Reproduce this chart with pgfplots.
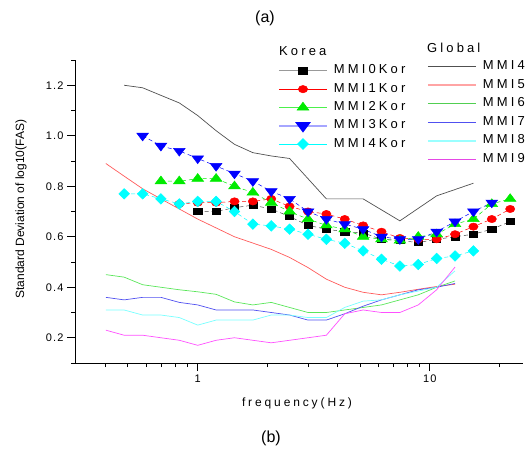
\documentclass[border=0pt]{standalone}
\usepackage{pgfplots}
\pgfplotsset{compat=1.18}
\usepackage{fontspec}
\setmainfont{Liberation Sans}
\newfontfamily\spaced[LetterSpace=24]{Liberation Sans}
\newfontfamily\tickfont[LetterSpace=10]{Liberation Sans}
\definecolor{gmmi4}{RGB}{80,80,80}
\definecolor{gmmi5}{RGB}{255,90,90}
\definecolor{gmmi6}{RGB}{90,230,90}
\definecolor{gmmi7}{RGB}{80,80,240}
\definecolor{gmmi8}{RGB}{120,255,255}
\definecolor{gmmi9}{RGB}{255,80,255}
\definecolor{kgreen}{RGB}{0,235,0}
\definecolor{kcyan}{RGB}{0,255,255}
\definecolor{kred}{RGB}{255,0,0}
\definecolor{kblue}{RGB}{0,0,255}
\definecolor{kgray}{RGB}{70,70,70}
\pgfplotsset{
  kdash/.style={line width=0.5bp, dash pattern=on 4bp off 3bp},
  msq/.style={mark=square*, mark size=3.15bp, mark options={solid, xscale=1.3, fill=black, draw=black}},
  mci/.style={mark=*, mark size=3.65bp, mark options={solid, xscale=1.27, fill=kred, draw=kred}},
  mtu/.style={mark=triangle*, mark size=5.2bp, mark options={solid, xscale=1.3, fill=kgreen, draw=kgreen}},
  mtd/.style={mark=triangle*, mark size=5.2bp, mark options={solid, rotate=180, xscale=1.3, fill=kblue, draw=kblue}},
  mdi/.style={mark=diamond*, mark size=5.3bp, mark options={solid, xscale=1.35, fill=kcyan, draw=kcyan}},
}
\begin{document}
\begin{tikzpicture}
% ---------- main axis with global lines ----------
\begin{axis}[
  width=448bp, height=303bp, scale only axis,
  at={(0,0)}, anchor=south west,
  xmode=log, xmin=0.296, xmax=25.2, ymin=0.1, ymax=1.3,
  legend image code/.code={\draw[mark repeat=2,mark phase=2,#1] plot coordinates {(0bp,0bp) (24bp,0bp) (48bp,0bp)};},
  axis x line*=bottom, axis y line*=left, axis line style={-, line width=0.8bp},
  tick align=outside, major tick length=8bp, minor tick length=4bp,
  every tick/.style={black, line width=0.8bp},
  xtick={1,10}, xticklabels={1,10},
  minor xtick={0.4,0.5,0.6,0.7,0.8,0.9,2,3,4,5,6,7,8,9,20},
  ytick={0.2,0.4,0.6,0.8,1.0,1.2},
  minor ytick={0.1,0.3,0.5,0.7,0.9,1.1,1.3},
  yticklabel style={/pgf/number format/.cd, fixed, fixed zerofill, precision=1, assume math mode=true},
  tick label style={font=\tickfont\fontsize{11bp}{13bp}\selectfont},
  xlabel={\spaced frequency(Hz)},
  ylabel={Standard Deviation of log10(FAS)},
  every axis x label/.style={at={(axis description cs:0.4955,0)}, yshift=-40bp, anchor=center, font=\fontsize{12bp}{14bp}\selectfont},
  every axis y label/.style={at={(axis description cs:0,0.508)}, xshift=-54bp, rotate=90, anchor=center, font=\fontsize{12bp}{14bp}\selectfont},
  legend style={draw=none, fill=none, inner sep=0pt, outer sep=0pt,
    at={(0.7857,0.9974)}, anchor=north west, row sep=6.5bp, column sep=6bp,
    nodes={inner sep=0pt, text height=9bp, text depth=3bp},
    font=\spaced\fontsize{13bp}{14bp}\selectfont},
  legend cell align=left,
]
\addlegendimage{color=gmmi4, line width=0.8bp}
\addlegendentry{MMI4}
\addlegendimage{color=gmmi5!55, line width=2bp}
\addlegendentry{MMI5}
\addlegendimage{color=gmmi6!90!black, line width=1.3bp}
\addlegendentry{MMI6}
\addlegendimage{color=gmmi7, line width=1.1bp}
\addlegendentry{MMI7}
\addlegendimage{color=gmmi8!75, line width=2bp}
\addlegendentry{MMI8}
\addlegendimage{color=gmmi9!90!black, line width=1.3bp}
\addlegendentry{MMI9}
\addplot[gmmi4, line width=0.7bp, forget plot] coordinates {
(0.482,1.20) (0.579,1.19) (0.694,1.16) (0.833,1.13) (1.000,1.08) (1.200,1.02)
(1.440,0.966) (1.728,0.933) (2.074,0.92) (2.488,0.91) (3.583,0.75) (5.160,0.75)
(7.430,0.663) (10.70,0.762) (15.41,0.812)};
\addplot[gmmi5, line width=0.7bp, forget plot] coordinates {
(0.402,0.89) (0.482,0.84) (0.579,0.79) (0.694,0.75) (0.833,0.71) (1.000,0.67)
(1.200,0.635) (1.440,0.60) (1.728,0.575) (2.074,0.55) (2.488,0.518) (2.986,0.478)
(3.583,0.432) (4.300,0.40) (5.160,0.38) (6.192,0.37) (7.430,0.38) (8.916,0.392)
(10.70,0.403) (12.84,0.412)};
\addplot[gmmi6, line width=0.7bp, forget plot] coordinates {
(0.402,0.45) (0.482,0.44) (0.579,0.41) (0.694,0.40) (0.833,0.39) (1.000,0.382)
(1.200,0.372) (1.440,0.342) (1.728,0.33) (2.074,0.34) (2.488,0.32) (2.986,0.30)
(3.583,0.30) (4.300,0.31) (5.160,0.32) (6.192,0.33) (7.430,0.35) (8.916,0.37)
(10.70,0.40) (12.84,0.425)};
\addplot[gmmi7, line width=0.7bp, forget plot] coordinates {
(0.402,0.36) (0.482,0.35) (0.579,0.36) (0.694,0.36) (0.833,0.34) (1.000,0.33)
(1.200,0.31) (1.440,0.31) (1.728,0.31) (2.074,0.30) (2.488,0.29) (2.986,0.27)
(3.583,0.27) (4.300,0.295) (5.160,0.325) (6.192,0.35) (7.430,0.37) (8.916,0.39)
(10.70,0.40) (12.84,0.415)};
\addplot[gmmi8, line width=0.7bp, forget plot] coordinates {
(0.402,0.31) (0.482,0.31) (0.579,0.29) (0.694,0.29) (0.833,0.28) (1.000,0.25)
(1.200,0.27) (1.440,0.27) (1.728,0.27) (2.074,0.29) (2.488,0.29) (2.986,0.28)
(3.583,0.28) (4.300,0.32) (5.160,0.345) (6.192,0.35) (7.430,0.37) (8.916,0.385)
(10.70,0.40) (12.84,0.465)};
\addplot[gmmi9, line width=0.7bp, forget plot] coordinates {
(0.402,0.23) (0.482,0.21) (0.579,0.21) (0.694,0.20) (0.833,0.19) (1.000,0.17)
(1.200,0.19) (1.440,0.20) (1.728,0.19) (2.074,0.18) (2.488,0.19) (2.986,0.20)
(3.583,0.21) (4.300,0.295) (5.160,0.31) (6.192,0.30) (7.430,0.30) (8.916,0.33)
(10.70,0.39) (12.84,0.48)};
\end{axis}
% ---------- overlay axis with Korean series ----------
\begin{axis}[
  width=448bp, height=303bp, scale only axis,
  at={(0,0)}, anchor=south west,
  xmode=log, xmin=0.296, xmax=25.2, ymin=0.1, ymax=1.3,
  hide axis,
  legend image code/.code={\draw[mark repeat=2,mark phase=2,#1] plot coordinates {(0bp,0bp) (24bp,0bp) (48bp,0bp)};},
  legend style={draw=none, fill=none, inner sep=0pt, outer sep=0pt,
    at={(0.4531,0.984)}, anchor=north west, row sep=6.3bp, column sep=6bp,
    nodes={inner sep=0pt, text height=9bp, text depth=3bp},
    font=\spaced\fontsize{13bp}{14bp}\selectfont},
  legend cell align=left,
]
\addlegendimage{draw=black!40, line width=1.2bp, msq}
\addlegendentry{MMI0Kor}
\addlegendimage{draw=kred, line width=0.6bp, mci}
\addlegendentry{MMI1Kor}
\addlegendimage{draw=kgreen!70, line width=0.6bp, mtu}
\addlegendentry{MMI2Kor}
\addlegendimage{draw=kblue!35, line width=2bp, mtd}
\addlegendentry{MMI3Kor}
\addlegendimage{draw=kcyan, line width=0.8bp, mdi}
\addlegendentry{MMI4Kor}
\addplot[kgray, kdash, msq, forget plot] coordinates {
(1.000,0.70) (1.200,0.70) (1.440,0.715) (1.728,0.725) (2.074,0.71) (2.488,0.68)
(2.986,0.645) (3.583,0.63) (4.300,0.62) (5.160,0.615) (6.192,0.59) (7.430,0.585)
(8.916,0.577) (10.70,0.59) (12.84,0.60) (15.41,0.61) (18.49,0.63) (22.19,0.66)};
\addplot[kred, kdash, mci, forget plot] coordinates {
(0.833,0.73) (1.000,0.735) (1.200,0.735) (1.440,0.74) (1.728,0.74) (2.074,0.75)
(2.488,0.72) (2.986,0.70) (3.583,0.69) (4.300,0.67) (5.160,0.645) (6.192,0.62)
(7.430,0.595) (8.916,0.59) (10.70,0.59) (12.84,0.61) (15.41,0.64) (18.49,0.67)
(22.19,0.71)};
\addplot[kgreen, kdash, mtu, forget plot] coordinates {
(0.694,0.82) (0.833,0.82) (1.000,0.83) (1.200,0.83) (1.440,0.80) (1.728,0.775)
(2.074,0.735) (2.488,0.70) (2.986,0.67) (3.583,0.645) (4.300,0.63) (5.160,0.60)
(6.192,0.59) (7.430,0.585) (8.916,0.60) (10.70,0.61) (12.84,0.65) (15.41,0.67)
(18.49,0.73) (22.19,0.75)};
\addplot[kblue, kdash, mtd, forget plot] coordinates {
(0.579,1.00) (0.694,0.96) (0.833,0.94) (1.000,0.91) (1.200,0.88) (1.440,0.85)
(1.728,0.82) (2.074,0.78) (2.488,0.75) (2.986,0.70) (3.583,0.67) (4.300,0.65)
(5.160,0.63) (6.192,0.60) (7.430,0.59) (8.916,0.59) (10.70,0.62) (12.84,0.66)
(15.41,0.70) (18.49,0.735)};
\addplot[kcyan, kdash, mdi, forget plot] coordinates {
(0.482,0.77) (0.579,0.77) (0.694,0.75) (0.833,0.73) (1.000,0.74) (1.200,0.74)
(1.440,0.70) (1.728,0.65) (2.074,0.643) (2.488,0.63) (2.986,0.61) (3.583,0.59)
(4.300,0.574) (5.160,0.544) (6.192,0.511) (7.430,0.484) (8.916,0.49) (10.70,0.514)
(12.84,0.524) (15.41,0.544)};
\end{axis}
\node[anchor=west, font=\spaced\fontsize{13bp}{14bp}\selectfont, inner sep=0pt] at (204bp,312bp) {Korea};
\node[anchor=west, font=\spaced\fontsize{13bp}{14bp}\selectfont, inner sep=0pt] at (352bp,314.7bp) {Global};
\node[font=\fontsize{16bp}{18bp}\selectfont] at (190bp,345bp) {(a)};
\node[font=\fontsize{16bp}{18bp}\selectfont] at (196bp,-75bp) {(b)};
\pgfresetboundingbox
\path (-75bp,-89bp) rectangle (451bp,363bp);
\end{tikzpicture}
\end{document}
